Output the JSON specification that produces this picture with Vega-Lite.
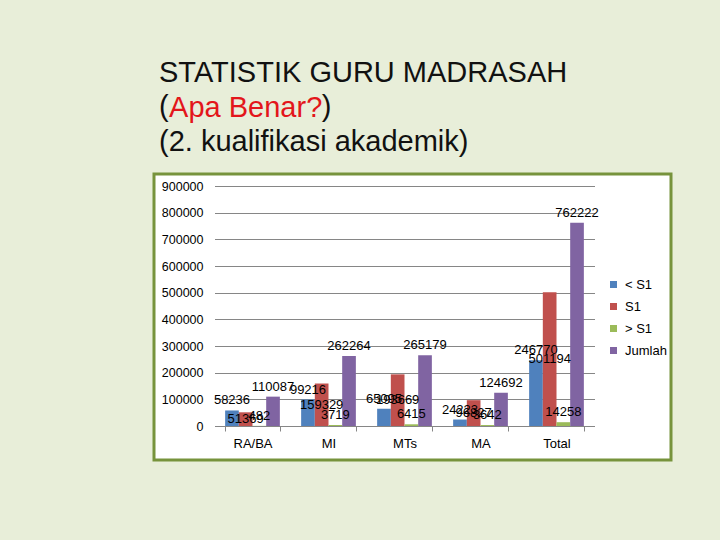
{
  "$schema": "https://vega.github.io/schema/vega-lite/v6.json",
  "width": 517,
  "height": 286,
  "autosize": {"type": "none"},
  "padding": {"left": 154, "top": 174, "right": 49, "bottom": 80},
  "background": "#e8eed9",
  "view": {"fill": "white", "stroke": "#77933c", "strokeWidth": 3},
  "title": {
    "text": "STATISTIK GURU MADRASAH",
    "subtitle": ["(\u00a0\u00a0\u00a0\u00a0\u00a0\u00a0\u00a0\u00a0\u00a0\u00a0\u00a0\u00a0\u00a0\u00a0\u00a0\u00a0\u00a0\u00a0\u00a0)", "(2. kualifikasi akademik)"],
    "anchor": "start",
    "frame": "group",
    "dx": 5,
    "offset": -64,
    "font": "Liberation Sans",
    "fontSize": 29,
    "fontWeight": "normal",
    "color": "#111111",
    "subtitleFont": "Liberation Sans",
    "subtitleFontSize": 29,
    "subtitleColor": "#111111",
    "subtitleLineHeight": 35,
    "subtitlePadding": 5
  },
  "data": {
    "values": [
      {"jenjang": "RA/BA", "kualifikasi": "< S1", "jumlah": 58236},
      {"jenjang": "RA/BA", "kualifikasi": "S1", "jumlah": 51369},
      {"jenjang": "RA/BA", "kualifikasi": "> S1", "jumlah": 482},
      {"jenjang": "RA/BA", "kualifikasi": "Jumlah", "jumlah": 110087},
      {"jenjang": "MI", "kualifikasi": "< S1", "jumlah": 99216},
      {"jenjang": "MI", "kualifikasi": "S1", "jumlah": 159329},
      {"jenjang": "MI", "kualifikasi": "> S1", "jumlah": 3719},
      {"jenjang": "MI", "kualifikasi": "Jumlah", "jumlah": 262264},
      {"jenjang": "MTs", "kualifikasi": "< S1", "jumlah": 65095},
      {"jenjang": "MTs", "kualifikasi": "S1", "jumlah": 193669},
      {"jenjang": "MTs", "kualifikasi": "> S1", "jumlah": 6415},
      {"jenjang": "MTs", "kualifikasi": "Jumlah", "jumlah": 265179},
      {"jenjang": "MA", "kualifikasi": "< S1", "jumlah": 24223},
      {"jenjang": "MA", "kualifikasi": "S1", "jumlah": 96827},
      {"jenjang": "MA", "kualifikasi": "> S1", "jumlah": 3642},
      {"jenjang": "MA", "kualifikasi": "Jumlah", "jumlah": 124692},
      {"jenjang": "Total", "kualifikasi": "< S1", "jumlah": 246770},
      {"jenjang": "Total", "kualifikasi": "S1", "jumlah": 501194},
      {"jenjang": "Total", "kualifikasi": "> S1", "jumlah": 14258},
      {"jenjang": "Total", "kualifikasi": "Jumlah", "jumlah": 762222}
    ]
  },
  "layer": [
    {
      "mark": {"type": "bar"},
      "encoding": {
        "x": {
          "field": "jenjang",
          "type": "nominal",
          "sort": ["RA/BA", "MI", "MTs", "MA", "Total"],
          "scale": {"range": [60.5, 440.5], "paddingInner": 0.28, "paddingOuter": 0.14},
          "axis": {
            "title": null,
            "orient": "bottom",
            "offset": -34,
            "domainColor": "#868686",
            "tickColor": "#868686",
            "tickBand": "extent",
            "tickSize": 5,
            "labelPadding": 6,
            "labelAngle": 0,
            "labelFont": "Liberation Sans",
            "labelFontSize": 13,
            "labelColor": "#000000",
            "grid": false
          }
        },
        "xOffset": {
          "field": "kualifikasi",
          "type": "nominal",
          "sort": ["< S1", "S1", "> S1", "Jumlah"],
          "scale": {"domain": ["< S1", "S1", "> S1", "Jumlah"], "paddingInner": 0, "paddingOuter": 0}
        },
        "y": {
          "field": "jumlah",
          "type": "quantitative",
          "scale": {"domain": [0, 900000], "range": [252, 12], "nice": false},
          "axis": {
            "title": "Apa Benar?",
            "titleColor": "#e3161b",
            "titleFont": "Liberation Sans",
            "titleFontSize": 29,
            "titleFontWeight": "normal",
            "titleAngle": 0,
            "titleAlign": "left",
            "titleBaseline": "alphabetic",
            "titleX": -45.9,
            "titleY": -58,
            "offset": -60.5,
            "domain": false,
            "ticks": false,
            "tickSize": 0,
            "labelPadding": 11.5,
            "labelFont": "Liberation Sans",
            "labelFontSize": 12.5,
            "labelColor": "#000000",
            "gridColor": "#868686",
            "values": [0, 100000, 200000, 300000, 400000, 500000, 600000, 700000, 800000, 900000],
            "format": "d"
          }
        },
        "color": {
          "field": "kualifikasi",
          "type": "nominal",
          "scale": {"domain": ["< S1", "S1", "> S1", "Jumlah"], "range": ["#4f81bd", "#c0504d", "#9bbb59", "#8064a2"]},
          "legend": {
            "orient": "none",
            "legendX": 453,
            "legendY": 104,
            "title": null,
            "symbolType": "square",
            "symbolSize": 49,
            "symbolStrokeWidth": 0,
            "labelFont": "Liberation Sans",
            "labelFontSize": 13,
            "labelColor": "#000000",
            "labelOffset": 5,
            "rowPadding": 8
          }
        }
      }
    },
    {
      "transform": [{"filter": "datum.kualifikasi != 'S1'"}],
      "mark": {"type": "text", "baseline": "alphabetic", "dy": -6, "font": "Liberation Sans", "fontSize": 13, "color": "#000000"},
      "encoding": {
        "x": {"field": "jenjang", "type": "nominal", "sort": ["RA/BA", "MI", "MTs", "MA", "Total"]},
        "xOffset": {"field": "kualifikasi", "type": "nominal", "sort": ["< S1", "S1", "> S1", "Jumlah"]},
        "y": {"field": "jumlah", "type": "quantitative", "scale": {"domain": [0, 900000], "range": [252, 12], "nice": false}, "axis": null},
        "text": {"field": "jumlah", "type": "quantitative", "format": "d"}
      }
    },
    {
      "transform": [{"filter": "datum.kualifikasi == 'S1'"}],
      "mark": {"type": "text", "baseline": "middle", "font": "Liberation Sans", "fontSize": 13, "color": "#000000"},
      "encoding": {
        "x": {"field": "jenjang", "type": "nominal", "sort": ["RA/BA", "MI", "MTs", "MA", "Total"]},
        "xOffset": {"field": "kualifikasi", "type": "nominal", "sort": ["< S1", "S1", "> S1", "Jumlah"]},
        "y": {"field": "jumlah", "type": "quantitative", "scale": {"domain": [0, 1800000], "range": [252, 12], "nice": false}, "axis": null},
        "text": {"field": "jumlah", "type": "quantitative", "format": "d"}
      }
    }
  ],
  "resolve": {"scale": {"y": "independent"}}
}
